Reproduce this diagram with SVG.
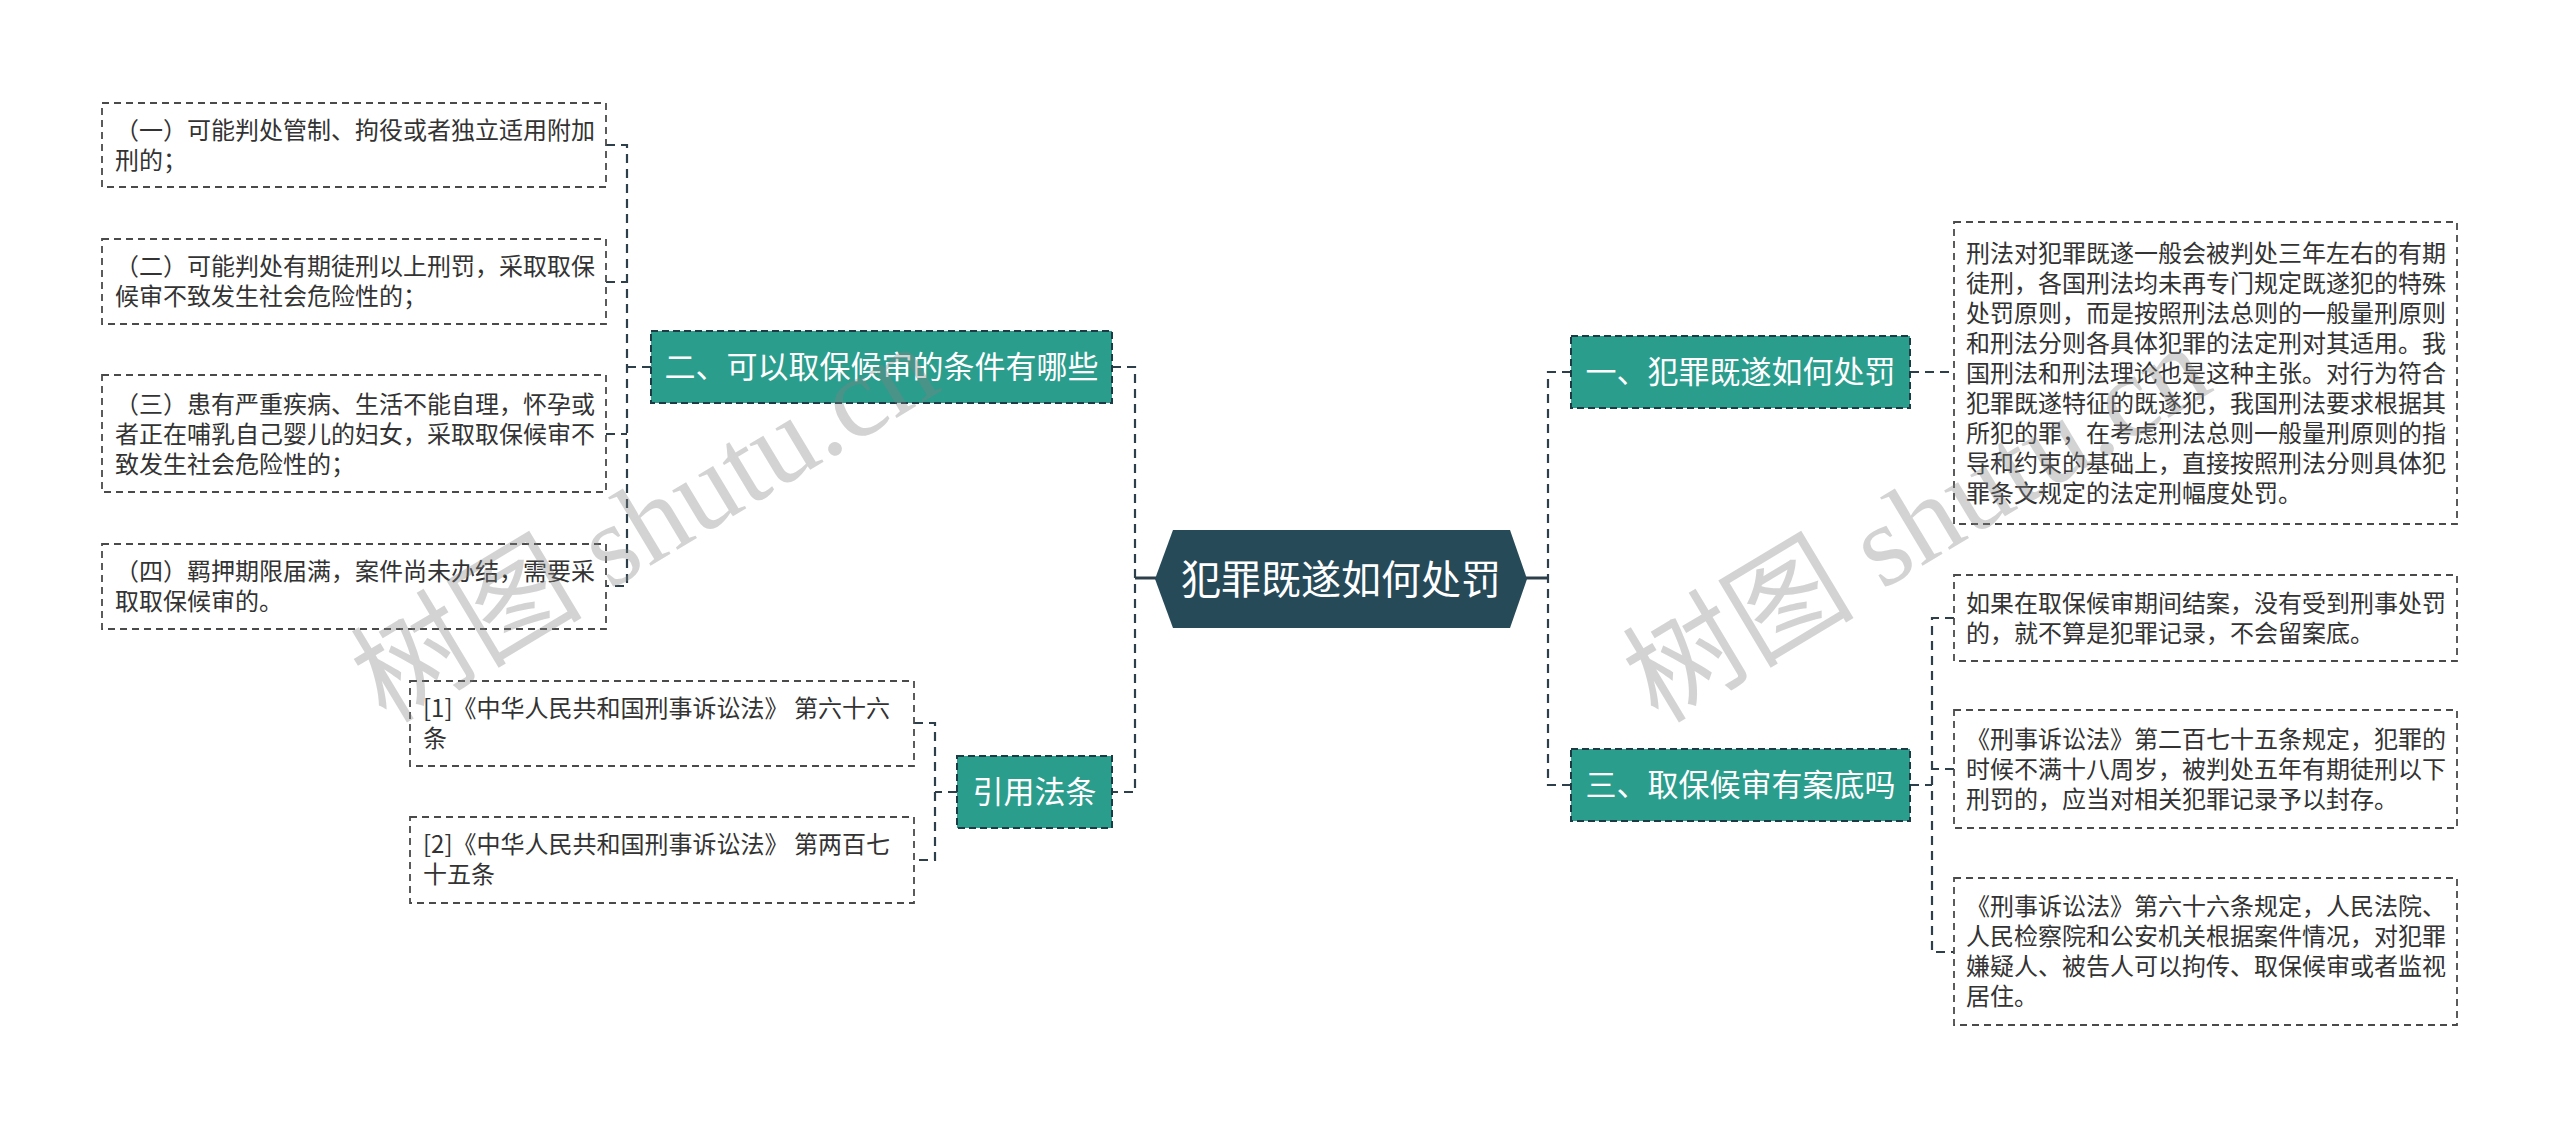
<svg xmlns="http://www.w3.org/2000/svg" width="2560" height="1129" viewBox="0 0 2560 1129">
<style>
.bg{fill:#ffffff}
.box{fill:#ffffff;stroke:#4a4a4a;stroke-width:1.8;stroke-dasharray:7 5}
.node{fill:#2b9d8d;stroke:#1d3b44;stroke-width:2;stroke-dasharray:7 4}
.conn{fill:none;stroke:#2c3f4a;stroke-width:2.2;stroke-dasharray:9 6}
.solid{fill:none;stroke:#2c3f4a;stroke-width:3}
.t{font-family:"Noto Sans CJK SC","Noto Sans",sans-serif;font-size:24px;fill:#333333}
.nt{font-family:"Noto Sans CJK SC","Noto Sans",sans-serif;font-size:31px;fill:#ffffff;text-anchor:middle}
.ct{font-family:"Noto Sans CJK SC","Noto Sans",sans-serif;font-size:40px;fill:#ffffff;text-anchor:middle}
.wm{font-family:"Liberation Serif","Noto Sans CJK SC",serif;font-size:116px;fill:#808080;fill-opacity:0.35;text-anchor:middle}
</style>
<rect class="bg" x="0" y="0" width="2560" height="1129"/>

<g id="connectors">
  <path class="solid" d="M1135,578 H1156"/>
  <path class="solid" d="M1526,578 H1548"/>
  <path class="conn" d="M1112,367 H1135 V792 H1112"/>
  <path class="conn" d="M1571,372 H1548 V785 H1571"/>
  <path class="conn" d="M606,145 H627 V586 H606"/>
  <path class="conn" d="M606,282 H627"/>
  <path class="conn" d="M606,434 H627"/>
  <path class="conn" d="M651,367 H627"/>
  <path class="conn" d="M914,723 H935 V860 H914"/>
  <path class="conn" d="M957,792 H935"/>
  <path class="conn" d="M1910,372 H1954"/>
  <path class="conn" d="M1910,785 H1932"/>
  <path class="conn" d="M1954,618 H1932 V952 H1954"/>
  <path class="conn" d="M1954,769 H1932"/>
</g>

<g id="root">
  <polygon points="1155,579 1173,530 1510,530 1527,579 1510,628 1173,628" fill="#274a59"/>
  <text class="ct" x="1341" y="594">犯罪既遂如何处罚</text>
</g>

<g id="n2">
  <rect class="node" x="651" y="331" width="461" height="72"/>
  <text class="nt" x="881.5" y="378">二、可以取保候审的条件有哪些</text>
</g>
<g id="n2-1">
  <rect class="box" x="102" y="103" width="504" height="84"/>
  <text class="t" x="115" y="139">（一）可能判处管制、拘役或者独立适用附加</text>
  <text class="t" x="115" y="169">刑的；</text>
</g>
<g id="n2-2">
  <rect class="box" x="102" y="239" width="504" height="85"/>
  <text class="t" x="115" y="275">（二）可能判处有期徒刑以上刑罚，采取取保</text>
  <text class="t" x="115" y="305">候审不致发生社会危险性的；</text>
</g>
<g id="n2-3">
  <rect class="box" x="102" y="375" width="504" height="117"/>
  <text class="t" x="115" y="413">（三）患有严重疾病、生活不能自理，怀孕或</text>
  <text class="t" x="115" y="443">者正在哺乳自己婴儿的妇女，采取取保候审不</text>
  <text class="t" x="115" y="473">致发生社会危险性的；</text>
</g>
<g id="n2-4">
  <rect class="box" x="102" y="544" width="504" height="85"/>
  <text class="t" x="115" y="580">（四）羁押期限届满，案件尚未办结，需要采</text>
  <text class="t" x="115" y="610">取取保候审的。</text>
</g>

<g id="n4">
  <rect class="node" x="957" y="756" width="155" height="72"/>
  <text class="nt" x="1034.5" y="803">引用法条</text>
</g>
<g id="n4-1">
  <rect class="box" x="410" y="681" width="504" height="85"/>
  <text class="t" x="423" y="717">[1]《中华人民共和国刑事诉讼法》 第六十六</text>
  <text class="t" x="423" y="747">条</text>
</g>
<g id="n4-2">
  <rect class="box" x="410" y="817" width="504" height="86"/>
  <text class="t" x="423" y="853">[2]《中华人民共和国刑事诉讼法》 第两百七</text>
  <text class="t" x="423" y="883">十五条</text>
</g>

<g id="n1">
  <rect class="node" x="1571" y="336" width="339" height="72"/>
  <text class="nt" x="1740.5" y="383">一、犯罪既遂如何处罚</text>
</g>
<g id="n1-1">
  <rect class="box" x="1954" y="222" width="503" height="302"/>
  <text class="t" x="1966" y="262">刑法对犯罪既遂一般会被判处三年左右的有期</text>
  <text class="t" x="1966" y="292">徒刑，各国刑法均未再专门规定既遂犯的特殊</text>
  <text class="t" x="1966" y="322">处罚原则，而是按照刑法总则的一般量刑原则</text>
  <text class="t" x="1966" y="352">和刑法分则各具体犯罪的法定刑对其适用。我</text>
  <text class="t" x="1966" y="382">国刑法和刑法理论也是这种主张。对行为符合</text>
  <text class="t" x="1966" y="412">犯罪既遂特征的既遂犯，我国刑法要求根据其</text>
  <text class="t" x="1966" y="442">所犯的罪，在考虑刑法总则一般量刑原则的指</text>
  <text class="t" x="1966" y="472">导和约束的基础上，直接按照刑法分则具体犯</text>
  <text class="t" x="1966" y="502">罪条文规定的法定刑幅度处罚。</text>
</g>

<g id="n3">
  <rect class="node" x="1571" y="749" width="339" height="72"/>
  <text class="nt" x="1740.5" y="796">三、取保候审有案底吗</text>
</g>
<g id="n3-1">
  <rect class="box" x="1954" y="575" width="503" height="86"/>
  <text class="t" x="1966" y="612">如果在取保候审期间结案，没有受到刑事处罚</text>
  <text class="t" x="1966" y="642">的，就不算是犯罪记录，不会留案底。</text>
</g>
<g id="n3-2">
  <rect class="box" x="1954" y="710" width="503" height="118"/>
  <text class="t" x="1966" y="748">《刑事诉讼法》第二百七十五条规定，犯罪的</text>
  <text class="t" x="1966" y="778">时候不满十八周岁，被判处五年有期徒刑以下</text>
  <text class="t" x="1966" y="808">刑罚的，应当对相关犯罪记录予以封存。</text>
</g>
<g id="n3-3">
  <rect class="box" x="1954" y="878" width="503" height="147"/>
  <text class="t" x="1966" y="915">《刑事诉讼法》第六十六条规定，人民法院、</text>
  <text class="t" x="1966" y="945">人民检察院和公安机关根据案件情况，对犯罪</text>
  <text class="t" x="1966" y="975">嫌疑人、被告人可以拘传、取保候审或者监视</text>
  <text class="t" x="1966" y="1005">居住。</text>
</g>

<g id="watermarks">
  <text class="wm" transform="translate(665,557) rotate(-31)">树图 shutu.cn</text>
  <text class="wm" transform="translate(1937,557) rotate(-31)">树图 shutu.cn</text>
</g>
</svg>
